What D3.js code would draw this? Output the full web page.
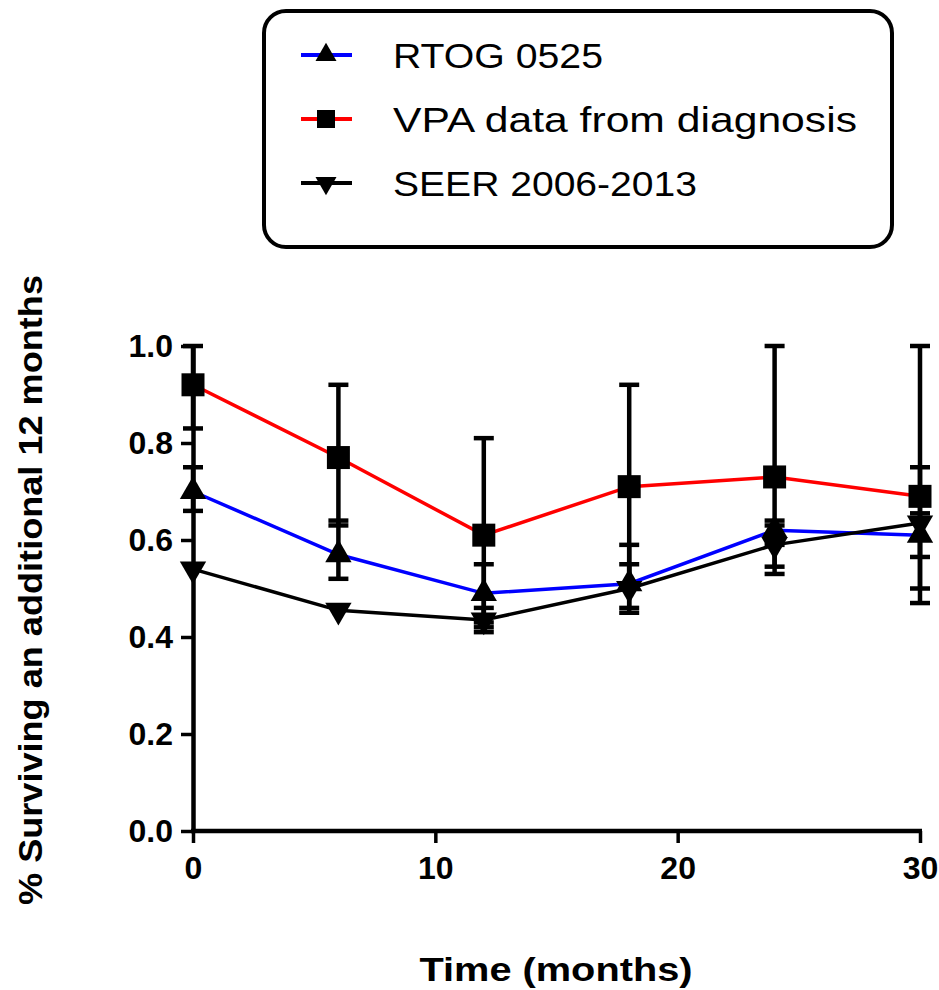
<!doctype html>
<html lang="en">
<head>
<meta charset="UTF-8">
<title>Surviving an additional 12 months</title>
<script src="https://cdn.jsdelivr.net/npm/d3@7"></script>
<style>
  body { margin: 0; background: #fff; }
  svg text { font-family: "Liberation Sans", Arial, sans-serif; fill: #000; }
</style>
</head>
<body>
<svg id="chart" width="939" height="990"></svg>
<script>
// values
var months = [0, 6, 12, 18, 24, 30];

var rtog   = [0.70, 0.57, 0.49, 0.51, 0.62, 0.61];
var rtogLo = [0.66, 0.52, 0.43, 0.46, 0.59, 0.50];
var rtogHi = [0.75, 0.64, 0.55, 0.59, 0.64, 0.75];

var vpa   = [0.92, 0.77, 0.61, 0.71, 0.73, 0.69];
var vpaLo = [0.83, 0.63, 0.41, 0.50, 0.545, 0.47];
var vpaHi = [1.00, 0.92, 0.81, 0.92, 1.00, 1.00];

var seer   = [0.54, 0.455, 0.435, 0.50, 0.59, 0.635];
var seerLo = [0.54, 0.455, 0.42, 0.45, 0.53, 0.565];
var seerHi = [0.54, 0.455, 0.46, 0.55, 0.63, 0.655];

var xTicks = [0, 10, 20, 30];
var yTicks = [0, 0.2, 0.4, 0.6, 0.8, 1.0];

var seriesNames = ["RTOG 0525", "VPA data from diagnosis", "SEER 2006-2013"];

var series = [
  {name: seriesNames[0], color: "#0000ff", shape: "up",     v: rtog, lo: rtogLo, hi: rtogHi, legendW: 210},
  {name: seriesNames[1], color: "#ff0000", shape: "square", v: vpa,  lo: vpaLo,  hi: vpaHi,  legendW: 464},
  {name: seriesNames[2], color: "#000000", shape: "down",   v: seer, lo: seerLo, hi: seerHi, legendW: 304}
];

var svg = d3.select("#chart");

var x = d3.scaleLinear().domain([0, 30]).range([193, 920]);
var y = d3.scaleLinear().domain([0, 1]).range([831, 346]);

function markerPath(shape, s) {
  if (shape == "square") return d3.symbol(d3.symbolSquare, s * s)();
  return d3.symbol(d3.symbolTriangle, s * s * 0.48)();
}

// connecting lines
var line = d3.line().x(function(d) { return x(d[0]); }).y(function(d) { return y(d[1]); });
series.forEach(function(s) {
  svg.append("path")
    .datum(months.map(function(m, i) { return [m, s.v[i]]; }))
    .attr("fill", "none")
    .attr("stroke", s.color)
    .attr("stroke-width", 3.5)
    .attr("d", line);
});

// error bars
series.forEach(function(s) {
  months.forEach(function(m, i) {
    if (s.hi[i] - s.lo[i] < 0.005) return;
    var g = svg.append("g").attr("stroke", "#000").attr("stroke-width", 4.5);
    g.append("line").attr("x1", x(m)).attr("x2", x(m)).attr("y1", y(s.lo[i])).attr("y2", y(s.hi[i]));
    [s.lo[i], s.hi[i]].forEach(function(e) {
      g.append("line").attr("x1", x(m) - 10).attr("x2", x(m) + 10).attr("y1", y(e)).attr("y2", y(e));
    });
  });
});

// axes
var yAxis = svg.append("g")
  .attr("transform", "translate(" + x(0) + ",0)")
  .call(d3.axisLeft(y).tickValues(yTicks).tickFormat(d3.format(".1f")).tickSize(12).tickSizeOuter(0).tickPadding(8));
var xAxis = svg.append("g")
  .attr("transform", "translate(0," + y(0) + ")")
  .call(d3.axisBottom(x).tickValues(xTicks).tickFormat(d3.format("d")).tickSize(12).tickSizeOuter(0).tickPadding(13));

[yAxis, xAxis].forEach(function(a) {
  a.select(".domain").attr("stroke-width", 4.5).attr("stroke", "#000");
  a.selectAll(".tick line").attr("stroke-width", 3.5).attr("stroke", "#000");
  a.selectAll(".tick text")
    .attr("font-family", "Liberation Sans, Arial, sans-serif")
    .attr("font-size", 32)
    .attr("font-weight", "bold")
    .attr("fill", "#000");
});
// extend x axis line under y axis
xAxis.select(".domain").attr("d", "M" + (x(0) - 2) + ",0H" + (x(30) + 2));

// markers
series.forEach(function(s) {
  months.forEach(function(m, i) {
    var rot = s.shape == "down" ? " rotate(180)" : "";
    svg.append("path")
      .attr("d", markerPath(s.shape, s.shape == "square" ? 23 : 25))
      .attr("transform", "translate(" + x(m) + "," + y(s.v[i]) + ")" + rot)
      .attr("fill", "#000");
  });
});

// axis titles
svg.append("text")
  .attr("transform", "translate(42,590) rotate(-90)")
  .attr("text-anchor", "middle")
  .attr("font-size", 33)
  .attr("font-weight", "bold")
  .attr("textLength", 630)
  .attr("lengthAdjust", "spacingAndGlyphs")
  .text("% Surviving an additional 12 months");

svg.append("text")
  .attr("x", 556)
  .attr("y", 981)
  .attr("text-anchor", "middle")
  .attr("font-size", 34)
  .attr("font-weight", "bold")
  .attr("textLength", 273)
  .attr("lengthAdjust", "spacingAndGlyphs")
  .text("Time (months)");

// legend
var legend = svg.append("g");
legend.append("rect")
  .attr("x", 264).attr("y", 11)
  .attr("width", 628).attr("height", 236)
  .attr("rx", 22)
  .attr("fill", "#fff")
  .attr("stroke", "#000")
  .attr("stroke-width", 4);

series.forEach(function(s, i) {
  var cy = 55 + i * 64;
  legend.append("line")
    .attr("x1", 301).attr("x2", 352).attr("y1", cy).attr("y2", cy)
    .attr("stroke", s.color).attr("stroke-width", 4);
  var rot = s.shape == "down" ? " rotate(180)" : "";
  legend.append("path")
    .attr("d", markerPath(s.shape, s.shape == "square" ? 18 : 20))
    .attr("transform", "translate(326," + cy + ")" + rot)
    .attr("fill", "#000");
  legend.append("text")
    .attr("x", 393)
    .attr("y", cy + 13)
    .attr("font-size", 35)
    .attr("textLength", s.legendW)
    .attr("lengthAdjust", "spacingAndGlyphs")
    .text(s.name);
});
</script>
</body>
</html>
